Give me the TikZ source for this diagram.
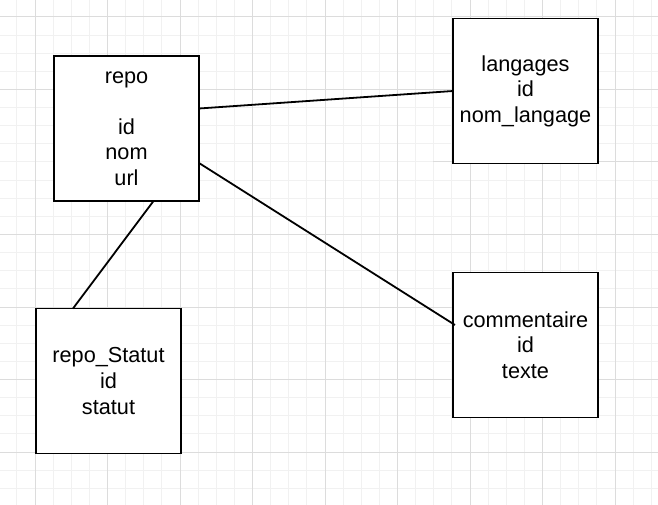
\documentclass[tikz,border=0pt]{standalone}
\usepackage{fontspec}
\setmainfont{Liberation Sans}
\usetikzlibrary{calc}
\definecolor{gridminor}{HTML}{F1F1F1}
\definecolor{gridmajor}{HTML}{DCDCDC}
\tikzset{
  entity/.style={draw=black, line width=1.8pt, fill=white, minimum width=145pt, minimum height=145pt,
    inner sep=0pt, outer sep=0pt, align=center, font=\fontsize{21.7pt}{25.6pt}\selectfont},
  link/.style={draw=black, line width=1.8pt},
  minorline/.style={draw=gridminor, line width=1pt},
  majorline/.style={draw=gridmajor, line width=1pt}
}
\begin{document}
\begin{tikzpicture}[x=1pt,y=-1pt]
\useasboundingbox (0,0) rectangle (658,505);
\fill[white] (0,0) rectangle (658,505);
% minor grid
\foreach \i in {-1,...,35} {
  \pgfmathsetmacro\xx{35+18.125*\i}
  \draw[minorline] (\xx,0) -- (\xx,505);
}
\foreach \i in {-1,...,27} {
  \pgfmathsetmacro\yy{17+18.125*\i}
  \draw[minorline] (0,\yy) -- (658,\yy);
}
% major grid
\foreach \i in {0,...,8} {
  \pgfmathsetmacro\xx{35+72.5*\i}
  \draw[majorline] (\xx,0) -- (\xx,505);
}
\foreach \yy in {17,89.5,234.5,307,379.5,452} {
  \draw[majorline] (0,\yy) -- (658,\yy);
}
\draw[majorline] (433,162) -- (658,162);
% entities
\node[entity] (repo) at (126.5,128.5) {repo\\[25.6pt]id\\nom\\url};
\node[entity] (lang) at (525.5,91) {langages\\id\\nom\_langage};
\node[entity] (comm) at (525.5,345) {commentaire\\id\\texte};
\node[entity] (stat) at (108.5,381) {repo\_Statut\\id\\statut};
% links
\draw[link] ($(repo.east)+(0,-20)$) -- (lang.west);
\draw[link] ($(repo.east)+(0,34.5)$) -- ($(comm.west)+(2,-20)$);
\draw[link] ($(repo.south)+(27,0)$) -- ($(stat.north)+(-35.5,0)$);
\end{tikzpicture}
\end{document}
